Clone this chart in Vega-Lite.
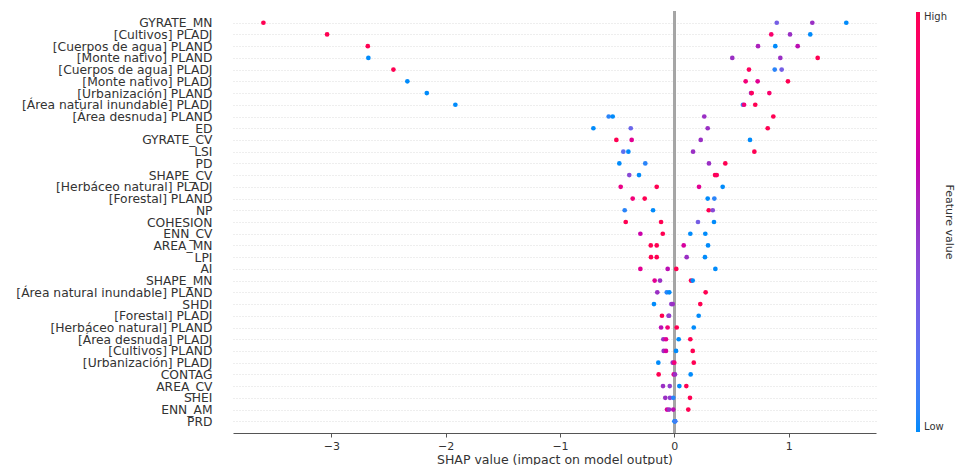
{
  "$schema": "https://vega.github.io/schema/vega-lite/v6.json",
  "width": 643,
  "height": 422,
  "autosize": "none",
  "padding": {"left": 233, "top": 11, "right": 80, "bottom": 32},
  "background": "white",
  "config": {
    "view": {"stroke": null},
    "font": "DejaVu Sans"
  },
  "data": {"values": [
    {"feature": "GYRATE_MN", "shap": -3.594, "value": 1},
    {"feature": "GYRATE_MN", "shap": 0.896, "value": 0.3},
    {"feature": "GYRATE_MN", "shap": 1.207, "value": 0.5},
    {"feature": "GYRATE_MN", "shap": 1.504, "value": 0},
    {"feature": "[Cultivos] PLADJ", "shap": -3.037, "value": 1},
    {"feature": "[Cultivos] PLADJ", "shap": 0.848, "value": 0.9},
    {"feature": "[Cultivos] PLADJ", "shap": 1.012, "value": 0.5},
    {"feature": "[Cultivos] PLADJ", "shap": 1.189, "value": 0},
    {"feature": "[Cuerpos de agua] PLAND", "shap": -2.681, "value": 1},
    {"feature": "[Cuerpos de agua] PLAND", "shap": 0.732, "value": 0.55},
    {"feature": "[Cuerpos de agua] PLAND", "shap": 0.883, "value": 0},
    {"feature": "[Cuerpos de agua] PLAND", "shap": 1.079, "value": 0.6},
    {"feature": "[Monte nativo] PLAND", "shap": -2.676, "value": 0},
    {"feature": "[Monte nativo] PLAND", "shap": 0.507, "value": 0.5},
    {"feature": "[Monte nativo] PLAND", "shap": 0.927, "value": 0.5},
    {"feature": "[Monte nativo] PLAND", "shap": 1.254, "value": 1},
    {"feature": "[Cuerpos de agua] PLADJ", "shap": -2.457, "value": 1},
    {"feature": "[Cuerpos de agua] PLADJ", "shap": 0.653, "value": 0.95},
    {"feature": "[Cuerpos de agua] PLADJ", "shap": 0.878, "value": 0.05},
    {"feature": "[Cuerpos de agua] PLADJ", "shap": 0.939, "value": 0.3},
    {"feature": "[Monte nativo] PLADJ", "shap": -2.335, "value": 0},
    {"feature": "[Monte nativo] PLADJ", "shap": 0.624, "value": 0.85},
    {"feature": "[Monte nativo] PLADJ", "shap": 0.729, "value": 0.75},
    {"feature": "[Monte nativo] PLADJ", "shap": 0.994, "value": 1},
    {"feature": "[Urbanización] PLAND", "shap": -2.165, "value": 0},
    {"feature": "[Urbanización] PLAND", "shap": 0.671, "value": 0.5},
    {"feature": "[Urbanización] PLAND", "shap": 0.677, "value": 0.95},
    {"feature": "[Urbanización] PLAND", "shap": 0.831, "value": 0.9},
    {"feature": "[Área natural inundable] PLADJ", "shap": -1.915, "value": 0},
    {"feature": "[Área natural inundable] PLADJ", "shap": 0.600, "value": 0.1},
    {"feature": "[Área natural inundable] PLADJ", "shap": 0.610, "value": 0.85},
    {"feature": "[Área natural inundable] PLADJ", "shap": 0.708, "value": 1},
    {"feature": "[Área desnuda] PLAND", "shap": -0.574, "value": 0.05},
    {"feature": "[Área desnuda] PLAND", "shap": -0.539, "value": 0},
    {"feature": "[Área desnuda] PLAND", "shap": 0.262, "value": 0.5},
    {"feature": "[Área desnuda] PLAND", "shap": 0.866, "value": 1},
    {"feature": "ED", "shap": -0.708, "value": 0},
    {"feature": "ED", "shap": -0.381, "value": 0.25},
    {"feature": "ED", "shap": 0.292, "value": 0.5},
    {"feature": "ED", "shap": 0.817, "value": 1},
    {"feature": "GYRATE_CV", "shap": -0.507, "value": 1},
    {"feature": "GYRATE_CV", "shap": -0.373, "value": 0.75},
    {"feature": "GYRATE_CV", "shap": 0.231, "value": 0.5},
    {"feature": "GYRATE_CV", "shap": 0.662, "value": 0},
    {"feature": "LSI", "shap": -0.446, "value": 0.2},
    {"feature": "LSI", "shap": -0.402, "value": 0},
    {"feature": "LSI", "shap": 0.164, "value": 0.5},
    {"feature": "LSI", "shap": 0.700, "value": 1},
    {"feature": "PD", "shap": -0.481, "value": 0},
    {"feature": "PD", "shap": -0.254, "value": 0.05},
    {"feature": "PD", "shap": 0.303, "value": 0.5},
    {"feature": "PD", "shap": 0.446, "value": 1},
    {"feature": "SHAPE_CV", "shap": -0.394, "value": 0.4},
    {"feature": "SHAPE_CV", "shap": -0.309, "value": 0},
    {"feature": "SHAPE_CV", "shap": 0.356, "value": 1},
    {"feature": "SHAPE_CV", "shap": 0.371, "value": 0.95},
    {"feature": "[Herbáceo natural] PLADJ", "shap": -0.469, "value": 0.8},
    {"feature": "[Herbáceo natural] PLADJ", "shap": -0.154, "value": 1},
    {"feature": "[Herbáceo natural] PLADJ", "shap": 0.216, "value": 0.75},
    {"feature": "[Herbáceo natural] PLADJ", "shap": 0.423, "value": 0},
    {"feature": "[Forestal] PLAND", "shap": -0.364, "value": 0.85},
    {"feature": "[Forestal] PLAND", "shap": -0.259, "value": 1},
    {"feature": "[Forestal] PLAND", "shap": 0.292, "value": 0},
    {"feature": "[Forestal] PLAND", "shap": 0.350, "value": 0.05},
    {"feature": "NP", "shap": -0.434, "value": 0.05},
    {"feature": "NP", "shap": -0.186, "value": 0},
    {"feature": "NP", "shap": 0.301, "value": 1},
    {"feature": "NP", "shap": 0.336, "value": 0.4},
    {"feature": "COHESION", "shap": -0.425, "value": 1},
    {"feature": "COHESION", "shap": -0.116, "value": 1},
    {"feature": "COHESION", "shap": 0.207, "value": 0.3},
    {"feature": "COHESION", "shap": 0.347, "value": 0},
    {"feature": "ENN_CV", "shap": -0.297, "value": 0.65},
    {"feature": "ENN_CV", "shap": -0.101, "value": 1},
    {"feature": "ENN_CV", "shap": 0.140, "value": 0},
    {"feature": "ENN_CV", "shap": 0.271, "value": 0},
    {"feature": "AREA_MN", "shap": -0.206, "value": 1},
    {"feature": "AREA_MN", "shap": -0.154, "value": 1},
    {"feature": "AREA_MN", "shap": 0.082, "value": 0.7},
    {"feature": "AREA_MN", "shap": 0.295, "value": 0},
    {"feature": "LPI", "shap": -0.204, "value": 1},
    {"feature": "LPI", "shap": -0.154, "value": 1},
    {"feature": "LPI", "shap": 0.108, "value": 0.5},
    {"feature": "LPI", "shap": 0.268, "value": 0},
    {"feature": "AI", "shap": -0.297, "value": 0.75},
    {"feature": "AI", "shap": -0.058, "value": 0.6},
    {"feature": "AI", "shap": 0.017, "value": 1},
    {"feature": "AI", "shap": 0.359, "value": 0},
    {"feature": "SHAPE_MN", "shap": -0.172, "value": 0.75},
    {"feature": "SHAPE_MN", "shap": -0.125, "value": 0.5},
    {"feature": "SHAPE_MN", "shap": 0.146, "value": 1},
    {"feature": "SHAPE_MN", "shap": 0.161, "value": 0},
    {"feature": "[Área natural inundable] PLAND", "shap": -0.149, "value": 0.5},
    {"feature": "[Área natural inundable] PLAND", "shap": -0.066, "value": 0.05},
    {"feature": "[Área natural inundable] PLAND", "shap": -0.044, "value": 0},
    {"feature": "[Área natural inundable] PLAND", "shap": 0.274, "value": 1},
    {"feature": "SHDI", "shap": -0.178, "value": 0},
    {"feature": "SHDI", "shap": -0.026, "value": 0.45},
    {"feature": "SHDI", "shap": -0.014, "value": 0.5},
    {"feature": "SHDI", "shap": 0.227, "value": 1},
    {"feature": "[Forestal] PLADJ", "shap": -0.108, "value": 1},
    {"feature": "[Forestal] PLADJ", "shap": -0.050, "value": 0.5},
    {"feature": "[Forestal] PLADJ", "shap": -0.046, "value": 0.45},
    {"feature": "[Forestal] PLADJ", "shap": 0.213, "value": 0},
    {"feature": "[Herbáceo natural] PLAND", "shap": -0.116, "value": 0.6},
    {"feature": "[Herbáceo natural] PLAND", "shap": -0.059, "value": 0.85},
    {"feature": "[Herbáceo natural] PLAND", "shap": 0.021, "value": 1},
    {"feature": "[Herbáceo natural] PLAND", "shap": 0.170, "value": 0},
    {"feature": "[Área desnuda] PLADJ", "shap": -0.096, "value": 0.5},
    {"feature": "[Área desnuda] PLADJ", "shap": -0.073, "value": 0.75},
    {"feature": "[Área desnuda] PLADJ", "shap": 0.038, "value": 0},
    {"feature": "[Área desnuda] PLADJ", "shap": 0.140, "value": 1},
    {"feature": "[Cultivos] PLAND", "shap": -0.093, "value": 0.5},
    {"feature": "[Cultivos] PLAND", "shap": -0.073, "value": 0.7},
    {"feature": "[Cultivos] PLAND", "shap": 0.015, "value": 0},
    {"feature": "[Cultivos] PLAND", "shap": 0.161, "value": 1},
    {"feature": "[Urbanización] PLADJ", "shap": -0.140, "value": 0},
    {"feature": "[Urbanización] PLADJ", "shap": -0.014, "value": 0.5},
    {"feature": "[Urbanización] PLADJ", "shap": 0.000, "value": 0.85},
    {"feature": "[Urbanización] PLADJ", "shap": 0.170, "value": 1},
    {"feature": "CONTAG", "shap": -0.137, "value": 1},
    {"feature": "CONTAG", "shap": -0.005, "value": 0.75},
    {"feature": "CONTAG", "shap": 0.006, "value": 0.5},
    {"feature": "CONTAG", "shap": 0.143, "value": 0},
    {"feature": "AREA_CV", "shap": -0.099, "value": 0.5},
    {"feature": "AREA_CV", "shap": -0.040, "value": 0.45},
    {"feature": "AREA_CV", "shap": 0.044, "value": 0},
    {"feature": "AREA_CV", "shap": 0.105, "value": 1},
    {"feature": "SHEI", "shap": -0.079, "value": 0.5},
    {"feature": "SHEI", "shap": -0.038, "value": 0.45},
    {"feature": "SHEI", "shap": -0.009, "value": 0.05},
    {"feature": "SHEI", "shap": 0.137, "value": 1},
    {"feature": "ENN_AM", "shap": -0.064, "value": 0.7},
    {"feature": "ENN_AM", "shap": -0.046, "value": 0.5},
    {"feature": "ENN_AM", "shap": -0.009, "value": 0.6},
    {"feature": "ENN_AM", "shap": 0.122, "value": 1},
    {"feature": "PRD", "shap": 0.002, "value": 0},
    {"feature": "PRD", "shap": 0.004, "value": 0.05},
    {"feature": "PRD", "shap": 0.006, "value": 0},
    {"feature": "PRD", "shap": 0.008, "value": 0.1}
  ]},
  "encoding": {
    "x": {
      "field": "shap", "type": "quantitative",
      "scale": {"domain": [-3.86, 1.764], "nice": false, "zero": false},
      "axis": {
        "values": [-3, -2, -1, 0, 1],
        "title": "SHAP value (impact on model output)",
        "titleFontSize": 12.5, "titleFontWeight": "normal", "titleColor": "#333",
        "titlePadding": 2,
        "labelFontSize": 11, "labelColor": "#333", "labelPadding": 3,
        "domainColor": "#555", "domainWidth": 1,
        "tickColor": "#555", "tickSize": 4,
        "grid": false
      }
    },
    "y": {
      "field": "feature", "type": "nominal",
      "sort": ["GYRATE_MN", "[Cultivos] PLADJ", "[Cuerpos de agua] PLAND", "[Monte nativo] PLAND", "[Cuerpos de agua] PLADJ", "[Monte nativo] PLADJ", "[Urbanización] PLAND", "[Área natural inundable] PLADJ", "[Área desnuda] PLAND", "ED", "GYRATE_CV", "LSI", "PD", "SHAPE_CV", "[Herbáceo natural] PLADJ", "[Forestal] PLAND", "NP", "COHESION", "ENN_CV", "AREA_MN", "LPI", "AI", "SHAPE_MN", "[Área natural inundable] PLAND", "SHDI", "[Forestal] PLADJ", "[Herbáceo natural] PLAND", "[Área desnuda] PLADJ", "[Cultivos] PLAND", "[Urbanización] PLADJ", "CONTAG", "AREA_CV", "SHEI", "ENN_AM", "PRD"],
      "scale": {"type": "point", "padding": 1},
      "axis": {
        "title": null,
        "domain": false, "ticks": false,
        "labelFontSize": 12.3, "labelColor": "#333", "labelPadding": 21,
        "labelLimit": 300,
        "grid": true, "gridColor": "#c8c8c8", "gridDash": [1, 2], "gridWidth": 0.6
      }
    }
  },
  "layer": [
    {
      "mark": {"type": "rule", "color": "#a6a6a6", "strokeWidth": 1.8},
      "encoding": {"x": {"datum": 0}, "y": null}
    },
    {
      "mark": {"type": "circle", "size": 22, "opacity": 1},
      "encoding": {
        "color": {
          "field": "value", "type": "quantitative",
          "scale": {"domain": [0, 0.5, 1], "range": ["#008bfb", "#9a2fc4", "#ff0052"]},
          "legend": {
            "orient": "none", "legendX": 683, "legendY": 1,
            "direction": "vertical",
            "gradientLength": 420, "gradientThickness": 4,
            "gradientStrokeWidth": 0,
            "values": [0, 1],
            "labelExpr": "datum.value == 1 ? 'High' : 'Low'",
            "labelFontSize": 10, "labelColor": "#333", "labelBaseline": "middle",
            "labelOffset": 4,
            "title": "Feature value", "titleOrient": "right", "titleAngle": -90,
            "titleFontSize": 11, "titleFontWeight": "normal", "titleColor": "#333",
            "titleAnchor": "middle", "titleBaseline": "top", "titlePadding": 8
          }
        }
      }
    }
  ]
}
